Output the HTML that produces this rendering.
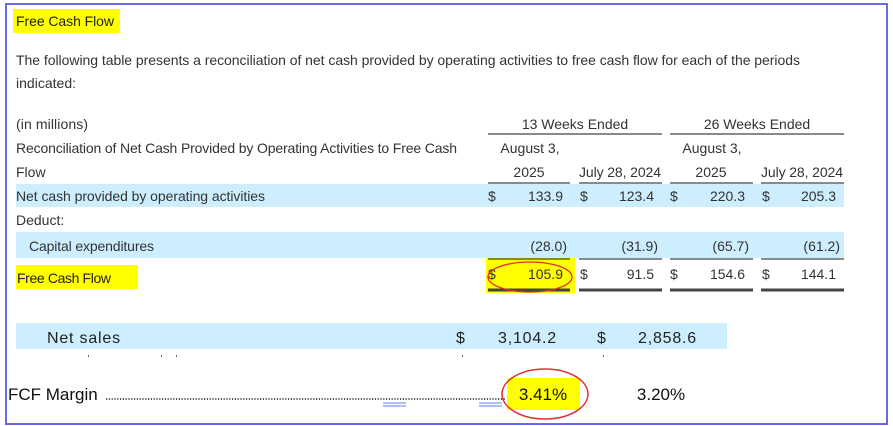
<!DOCTYPE html>
<html><head><meta charset="utf-8"><style>
html,body{margin:0;padding:0;background:#fff;}
svg{display:block;font-family:"Liberation Sans",sans-serif;}
</style></head><body>
<svg width="893" height="426" viewBox="0 0 893 426">
<rect x="6" y="4" width="881" height="420" fill="#fff" stroke="#6a6ae8" stroke-width="2"/>
<rect x="13" y="9" width="107" height="24" fill="#ffff00"/>
<text x="16" y="26" font-size="14" fill="#222" textLength="98">Free Cash Flow</text>
<text x="16" y="65" font-size="14" fill="#333" textLength="784">The following table presents a reconciliation of net cash provided by operating activities to free cash flow for each of the periods</text>
<text x="16" y="88" font-size="14" fill="#333" textLength="60">indicated:</text>

<text x="16" y="129" font-size="14" fill="#333" textLength="72">(in millions)</text>
<text x="575" y="129" font-size="14" fill="#333" text-anchor="middle">13 Weeks Ended</text>
<text x="757" y="129" font-size="14" fill="#333" text-anchor="middle">26 Weeks Ended</text>
<g stroke="#444" stroke-width="1.2">
<line x1="488" y1="134" x2="662" y2="134"/><line x1="670" y1="134" x2="844" y2="134"/>
<line x1="488" y1="183" x2="570" y2="183"/><line x1="579" y1="183" x2="662" y2="183"/>
<line x1="670" y1="183" x2="753" y2="183"/><line x1="761" y1="183" x2="844" y2="183"/>
</g>
<text x="16" y="153" font-size="14" fill="#333" textLength="441">Reconciliation of Net Cash Provided by Operating Activities to Free Cash</text>
<text x="16" y="177" font-size="14" fill="#333">Flow</text>
<g font-size="14" fill="#333" text-anchor="middle">
<text x="530" y="153">August 3,</text><text x="529" y="177">2025</text>
<text x="620" y="177" textLength="82">July 28, 2024</text>
<text x="712" y="153">August 3,</text><text x="711" y="177">2025</text>
<text x="802" y="177" textLength="82">July 28, 2024</text>
</g>

<rect x="16" y="184" width="828" height="23" fill="#cdeefe"/>
<text x="16" y="201" font-size="14" fill="#333" textLength="249">Net cash provided by operating activities</text>
<g font-size="14" fill="#333">
<text x="488" y="201">$</text><text x="563" y="201" text-anchor="end">133.9</text>
<text x="580" y="201">$</text><text x="654" y="201" text-anchor="end">123.4</text>
<text x="670" y="201">$</text><text x="745" y="201" text-anchor="end">220.3</text>
<text x="762" y="201">$</text><text x="836" y="201" text-anchor="end">205.3</text>
</g>
<text x="16" y="225" font-size="14" fill="#333">Deduct:</text>

<rect x="16" y="232" width="828" height="26" fill="#cdeefe"/>
<text x="29" y="251" font-size="14" fill="#333" textLength="125">Capital expenditures</text>
<g font-size="14" fill="#333" text-anchor="end">
<text x="567" y="251">(28.0)</text><text x="658" y="251">(31.9)</text>
<text x="749" y="251">(65.7)</text><text x="840" y="251">(61.2)</text>
</g>

<rect x="486" y="258" width="89" height="35" fill="#ffff00"/>
<g stroke="#444" stroke-width="1.2">
<line x1="488" y1="259" x2="570" y2="259"/><line x1="579" y1="259" x2="662" y2="259"/>
<line x1="670" y1="259" x2="753" y2="259"/><line x1="761" y1="259" x2="844" y2="259"/>
</g>
<rect x="16" y="265" width="122" height="24" fill="#ffff00"/>
<text x="17" y="283" font-size="14" fill="#222" textLength="94">Free Cash Flow</text>
<g font-size="14" fill="#333">
<text x="488" y="279">$</text><text x="563" y="279" text-anchor="end">105.9</text>
<text x="580" y="279">$</text><text x="654" y="279" text-anchor="end">91.5</text>
<text x="670" y="279">$</text><text x="745" y="279" text-anchor="end">154.6</text>
<text x="762" y="279">$</text><text x="836" y="279" text-anchor="end">144.1</text>
</g>
<g stroke="#444" stroke-width="3">
<line x1="488" y1="290" x2="570" y2="290"/><line x1="579" y1="290" x2="662" y2="290"/>
<line x1="670" y1="290" x2="753" y2="290"/><line x1="761" y1="290" x2="844" y2="290"/>
</g>
<ellipse cx="530" cy="277" rx="42" ry="15" fill="none" stroke="#e03030" stroke-width="1.3"/>

<rect x="16" y="323" width="711" height="26" fill="#cdeefe"/>
<g font-size="16" fill="#222" letter-spacing="0.8">
<text x="47" y="343">Net sales</text>
<text x="456" y="343">$</text><text x="557" y="343" text-anchor="end">3,104.2</text>
<text x="597" y="343">$</text><text x="697" y="343" text-anchor="end">2,858.6</text>
</g>
<g fill="#666">
<rect x="88" y="355" width="1" height="2"/><rect x="161" y="355" width="1" height="2"/><rect x="176" y="355" width="1" height="2"/><rect x="462" y="355" width="1" height="2"/><rect x="603" y="355" width="1" height="2"/>
</g>

<rect x="507" y="378" width="73" height="32" fill="#ffff00"/>
<text x="8" y="400" font-size="17" fill="#111">FCF Margin</text>
<line x1="106" y1="399" x2="505" y2="399" stroke="#222" stroke-width="1.5" stroke-dasharray="1.2 1.6"/>
<g stroke="#5a8ae8" stroke-width="1">
<line x1="383" y1="403" x2="406" y2="403"/><line x1="383" y1="406" x2="406" y2="406"/>
<line x1="479" y1="403" x2="502" y2="403"/><line x1="479" y1="406" x2="502" y2="406"/>
</g>
<text x="543" y="400" font-size="17" fill="#111" text-anchor="middle">3.41%</text>
<text x="661" y="400" font-size="17" fill="#111" text-anchor="middle">3.20%</text>
<ellipse cx="545" cy="394" rx="43" ry="25" fill="none" stroke="#e03030" stroke-width="1.5"/>
</svg>
</body></html>
